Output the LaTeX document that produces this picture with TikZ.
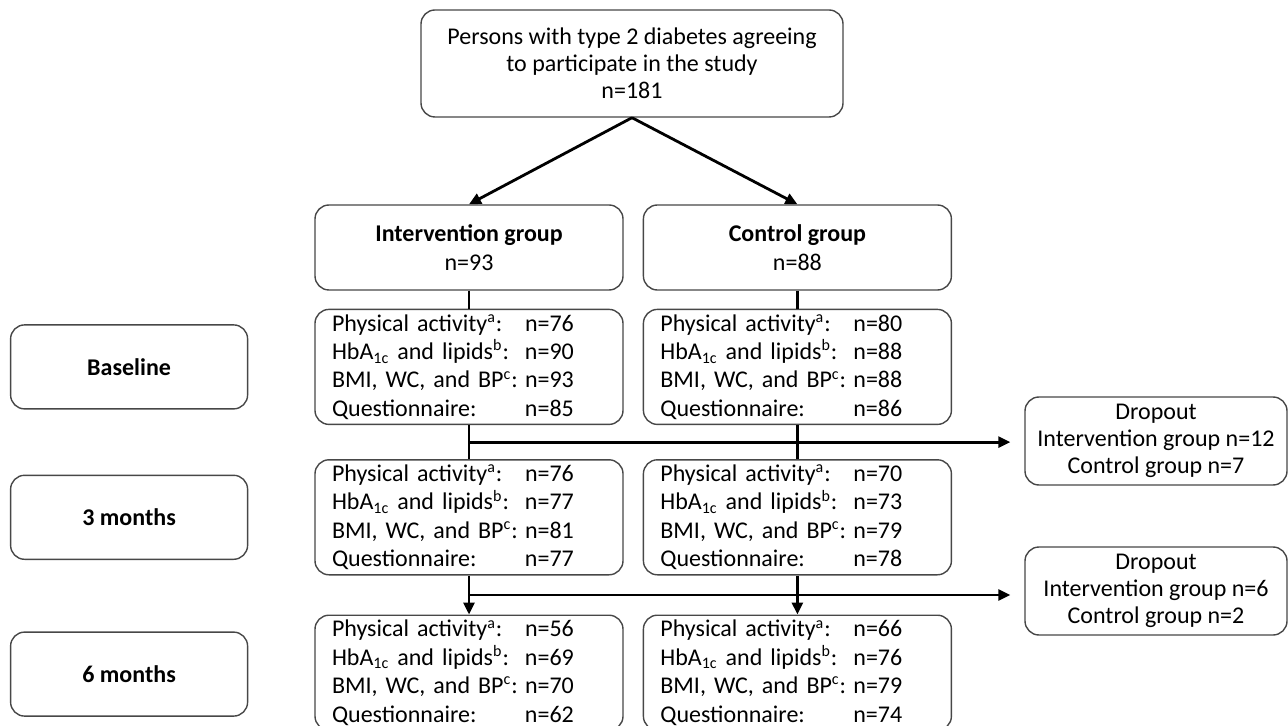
\documentclass[tikz,border=0pt]{standalone}
\usepackage{fontspec}
\setmainfont{Carlito}
\usetikzlibrary{arrows.meta, positioning, calc}

\newcommand{\mrow}[2]{\makebox[96.5pt][l]{#1}#2}
\newcommand{\measrows}[4]{%
  \mrow{Physical activity\textsuperscript{a}:}{n=#1}\\
  \mrow{HbA\textsubscript{1c} and lipids\textsuperscript{b}:}{n=#2}\\
  \mrow{BMI, WC, and BP\textsuperscript{c}:}{n=#3}\\
  \mrow{Questionnaire:}{n=#4}}

\begin{document}
\begin{tikzpicture}[
    x=0.5pt, y=-0.5pt,
    node distance=9pt and 9.5pt,
    font=\fontsize{12}{14}\selectfont,
    >={Triangle[length=6pt,width=5.5pt]},
    rbox/.style={draw=black!72, line width=0.7pt, rounded corners=7pt, align=center},
    groupbox/.style={rbox, minimum width=154pt, minimum height=42.5pt, font=\fontsize{12}{14.5}\selectfont},
    measbox/.style={rbox, align=left, text width=137pt, inner xsep=8.5pt, inner ysep=1pt, minimum height=57.5pt, font=\fontsize{12}{14.2}\selectfont},
    timebox/.style={rbox, minimum width=118.5pt, minimum height=42pt, font=\fontsize{12}{14}\selectfont\bfseries},
    dropbox/.style={rbox, minimum width=131pt, minimum height=44pt, font=\fontsize{12}{13.5}\selectfont},
    link/.style={line width=1.4pt},
    arrow/.style={->, line width=1.4pt},
]
\useasboundingbox (0,0) rectangle (1288,726);

% --- Top: enrolment and allocation
\node[rbox, minimum width=211pt, minimum height=53.5pt, font=\fontsize{12}{13.5}\selectfont] (start) at (632,63.5)
    {Persons with type 2 diabetes agreeing\\to participate in the study\\n=181};
\node[groupbox] (ig) at (469,247.5) {\textbf{Intervention group}\\n=93};
\node[groupbox, right=of ig] (cg) {\textbf{Control group}\\n=88};

% --- Measurements per group and time point
\node[measbox, below=of ig]          (ib) {\measrows{76}{90}{93}{85}};
\node[measbox, below=17pt of ib]     (i3) {\measrows{76}{77}{81}{77}};
\node[measbox, below=19.5pt of i3]   (i6) {\measrows{56}{69}{70}{62}};
\node[measbox, below=of cg]          (cb) {\measrows{80}{88}{88}{86}};
\node[measbox, below=17pt of cb]     (c3) {\measrows{70}{73}{79}{78}};
\node[measbox, below=19.5pt of c3]   (c6) {\measrows{66}{76}{79}{74}};

% --- Time points on the left
\node[timebox, left=33pt of ib] (tbase) {Baseline};
\node[timebox, left=33pt of i3] (t3)    {3 months};
\node[timebox, left=33pt of i6, yshift=-0.7pt] (t6) {6 months};

% --- Dropouts on the right
\node[dropbox] (drop1) at (1156,441) {Dropout\\Intervention group n=12\\Control group n=7};
\node[dropbox] (drop2) at (1156,591) {Dropout\\Intervention group n=6\\Control group n=2};

% --- Arrows
\draw[arrow] (start.south) -- (ig.north);
\draw[arrow] (start.south) -- (cg.north);

\draw[link]  (ig) -- (ib);
\draw[link]  (ib) -- (i3);
\draw[arrow] (i3) -- (i6);
\draw[link]  (cg) -- (cb);
\draw[link]  (cb) -- (c3);
\draw[arrow] (c3) -- (c6);

\coordinate (j1) at ($(ib.south)!0.5!(i3.north)$);
\coordinate (j2) at ($(i3.south)!0.5!(i6.north)$);
\draw[arrow, shorten >=7pt] (j1) -- (j1 -| drop1.west);
\draw[arrow, shorten >=7pt] (j2) -- (j2 -| drop2.west);

\end{tikzpicture}
\end{document}
